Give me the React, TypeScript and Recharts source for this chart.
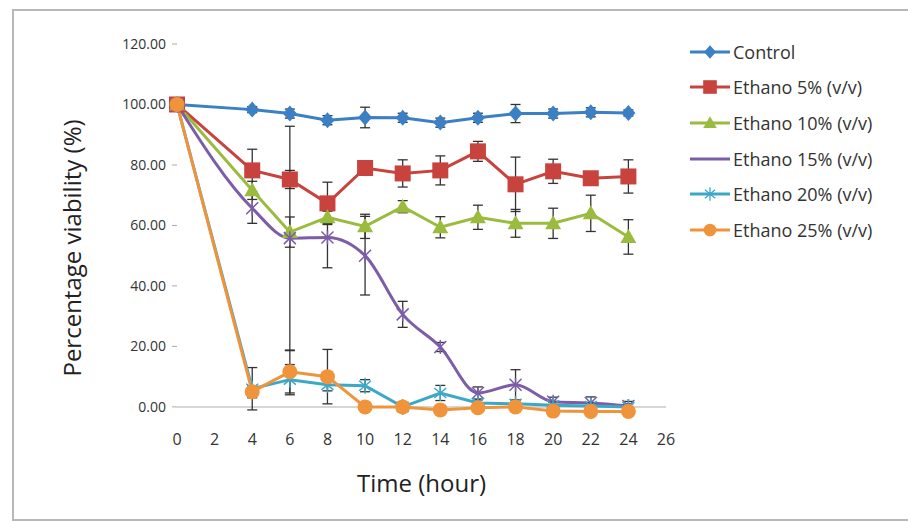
import {
  LineChart,
  Line,
  XAxis,
  YAxis,
  ErrorBar,
  Legend,
  Label,
  ReferenceLine,
} from 'recharts';

const hours = [0, 4, 6, 8, 10, 12, 14, 16, 18, 20, 22, 24];

const control = [100, 98.3, 97, 94.8, 95.7, 95.6, 94, 95.6, 97, 97, 97.4, 97.2];
const controlErr = [0, 1, 1.5, 1.5, 3.4, 1.5, 1.5, 1.5, 3, 1.5, 1.5, 1];

const eth5 = [100, 78.2, 75.2, 67.3, 79, 77.2, 78.2, 84.5, 73.6, 77.9, 75.6, 76.2];
const eth5Err = [0, 7, 3, 7, 2, 4.5, 4.8, 3.3, 9, 4, 1.5, 5.5];

const eth10 = [100, 71.6, 57.8, 62.7, 59.7, 66.2, 59.4, 62.7, 60.7, 60.7, 64, 56.2];
const eth10Err = [0, 3, 5, 2, 4, 2, 3.5, 4, 4.6, 5, 6, 5.7];

const eth15 = [100, 65.7, 55.8, 56, 50, 30.6, 19.8, 4.6, 7.3, 1.7, 1.3, 0.3];
const eth15Err = [0, 5, 37, 10, 13, 4.3, 1.5, 2, 5, 1.5, 2, 1.5];

const eth20 = [100, 6, 9, 7.3, 7, 0, 4.6, 1.3, 1, 0.5, 0.3, 0];
const eth20Err = [0, 7, 5, 2, 2, 1, 2.5, 1, 1, 1, 1, 1];

const eth25 = [100, 5, 11.6, 10, 0, 0, -1, -0.3, 0, -1.4, -1.5, -1.5];
const eth25Err = [0, 2, 7, 9, 1, 1, 1, 1, 1, 1, 1, 1];

const xTicks = [0, 2, 4, 6, 8, 10, 12, 14, 16, 18, 20, 22, 24, 26];
const yTicks = [0, 20, 40, 60, 80, 100, 120];

const data = hours.map((h, i) => ({
  hour: h,
  control: control[i],
  controlErr: controlErr[i],
  eth5: eth5[i],
  eth5Err: eth5Err[i],
  eth10: eth10[i],
  eth10Err: eth10Err[i],
  eth15: eth15[i],
  eth15Err: eth15Err[i],
  eth20: eth20[i],
  eth20Err: eth20Err[i],
  eth25: eth25[i],
  eth25Err: eth25Err[i],
}));

const FONT = '"Open Sans", "Noto Sans", sans-serif';

const COLORS: Record<string, string> = {
  control: '#3B7FC4',
  eth5: '#C8423E',
  eth10: '#9BBB3F',
  eth15: '#7B5EA7',
  eth20: '#3CA8C8',
  eth25: '#F0943C',
};

const series = [
  { key: 'control', name: 'Control', type: 'linear' },
  { key: 'eth5', name: 'Ethano 5% (v/v)', type: 'linear' },
  { key: 'eth10', name: 'Ethano 10% (v/v)', type: 'linear' },
  { key: 'eth15', name: 'Ethano 15% (v/v)', type: 'monotone' },
  { key: 'eth20', name: 'Ethano 20% (v/v)', type: 'linear' },
  { key: 'eth25', name: 'Ethano 25% (v/v)', type: 'linear' },
];
const order = series.map((s) => s.key);

function Marker({ kind, cx, cy, color }: { kind: string; cx: number; cy: number; color: string }) {
  if (cx == null || cy == null) return null;
  switch (kind) {
    case 'control':
      return <path d={`M${cx},${cy - 8} L${cx + 7},${cy} L${cx},${cy + 8} L${cx - 7},${cy} Z`} fill={color} />;
    case 'eth5':
      return <rect x={cx - 8} y={cy - 8} width={16} height={16} fill={color} />;
    case 'eth10':
      return <path d={`M${cx},${cy - 8} L${cx + 8},${cy + 6} L${cx - 8},${cy + 6} Z`} fill={color} />;
    case 'eth15':
      return (
        <path
          d={`M${cx - 6},${cy - 6} L${cx + 6},${cy + 6} M${cx + 6},${cy - 6} L${cx - 6},${cy + 6} M${cx},${cy - 7} L${cx},${cy + 7}`}
          stroke={color}
          strokeWidth={1.5}
          fill="none"
        />
      );
    case 'eth20':
      return (
        <path
          d={`M${cx - 6},${cy - 5} L${cx + 6},${cy + 5} M${cx + 6},${cy - 5} L${cx - 6},${cy + 5} M${cx},${cy - 8} L${cx},${cy + 8}`}
          stroke={color}
          strokeWidth={1.5}
          fill="none"
        />
      );
    default:
      return <circle cx={cx} cy={cy} r={7.5} fill={color} />;
  }
}

const makeDot = (kind: string) => (props: any) => (
  <Marker key={`${kind}-${props.index}`} kind={kind} cx={props.cx} cy={props.cy} color={COLORS[kind]} />
);

const LegendContent = ({ payload }: any) => {
  const items = [...(payload || [])].sort(
    (a: any, b: any) => order.indexOf(a.dataKey) - order.indexOf(b.dataKey)
  );
  return (
    <div style={{ fontFamily: FONT }}>
      {items.map((entry: any) => {
        const kind = entry.dataKey as string;
        return (
          <div key={kind} style={{ display: 'flex', alignItems: 'center', height: 35.6 }}>
            <svg width={44} height={20}>
              <line x1={2} y1={10} x2={42} y2={10} stroke={COLORS[kind]} strokeWidth={3} />
              {kind !== 'eth15' && (
                <g transform="translate(22,10) scale(0.85) translate(-22,-10)">
                  <Marker kind={kind} cx={22} cy={10} color={COLORS[kind]} />
                </g>
              )}
            </svg>
            <span style={{ fontSize: 18, color: '#333', marginLeft: 1 }}>{entry.value}</span>
          </div>
        );
      })}
    </div>
  );
};

export default function App() {
  return (
    <div
      style={{
        position: 'absolute',
        left: 0,
        top: 0,
        width: 908,
        height: 521,
        background: '#fff',
        fontFamily: FONT,
      }}
    >
      <div
        style={{
          position: 'absolute',
          left: 12,
          top: 9,
          width: 896,
          height: 508,
          borderTop: '2px solid #b8b8b8',
          borderLeft: '2px solid #b8b8b8',
          borderBottom: '2px solid #b8b8b8',
        }}
      />
      <div style={{ position: 'absolute', left: 0, top: 0 }}>
        <LineChart
          width={908}
          height={521}
          data={data}
          margin={{ top: 44, right: 242, bottom: 69, left: 117 }}
        >
          <XAxis
            dataKey="hour"
            type="number"
            domain={[0, 26]}
            ticks={xTicks}
            axisLine={false}
            tickLine={false}
            tickMargin={6}
            height={30}
            tick={{ fill: '#333', fontSize: 16, fontFamily: FONT }}
          >
            <Label
              value="Time (hour)"
              position="insideBottom"
              offset={-40}
              style={{ fill: '#222', fontSize: 24, fontFamily: FONT }}
            />
          </XAxis>
          <YAxis
            type="number"
            domain={[-5, 120]}
            ticks={yTicks}
            tickFormatter={(v: number) => v.toFixed(2)}
            axisLine={false}
            tickLine={{ stroke: '#aaa' }}
            tickSize={5}
            tickMargin={6}
            width={60}
            tick={{ fill: '#333', fontSize: 14, fontFamily: FONT }}
          >
            <Label
              value="Percentage viability (%)"
              angle={-90}
              position="insideLeft"
              offset={-45}
              dy={15}
              style={{ textAnchor: 'middle', fill: '#222', fontSize: 24, fontFamily: FONT }}
            />
          </YAxis>
          <ReferenceLine y={0} stroke="#c8c8c8" strokeWidth={1.5} />
          <Legend
            layout="vertical"
            align="center"
            verticalAlign="middle"
            content={<LegendContent />}
            wrapperStyle={{ left: 688, top: 34, width: 220 }}
          />
          {series.map((s) => (
            <Line
              key={s.key}
              dataKey={s.key}
              name={s.name}
              type={s.type as any}
              stroke={COLORS[s.key]}
              strokeWidth={3}
              dot={makeDot(s.key)}
              activeDot={false}
              isAnimationActive={false}
            >
              <ErrorBar dataKey={`${s.key}Err`} direction="y" width={5} stroke="#333" strokeWidth={1.3} />
            </Line>
          ))}
        </LineChart>
      </div>
    </div>
  );
}
